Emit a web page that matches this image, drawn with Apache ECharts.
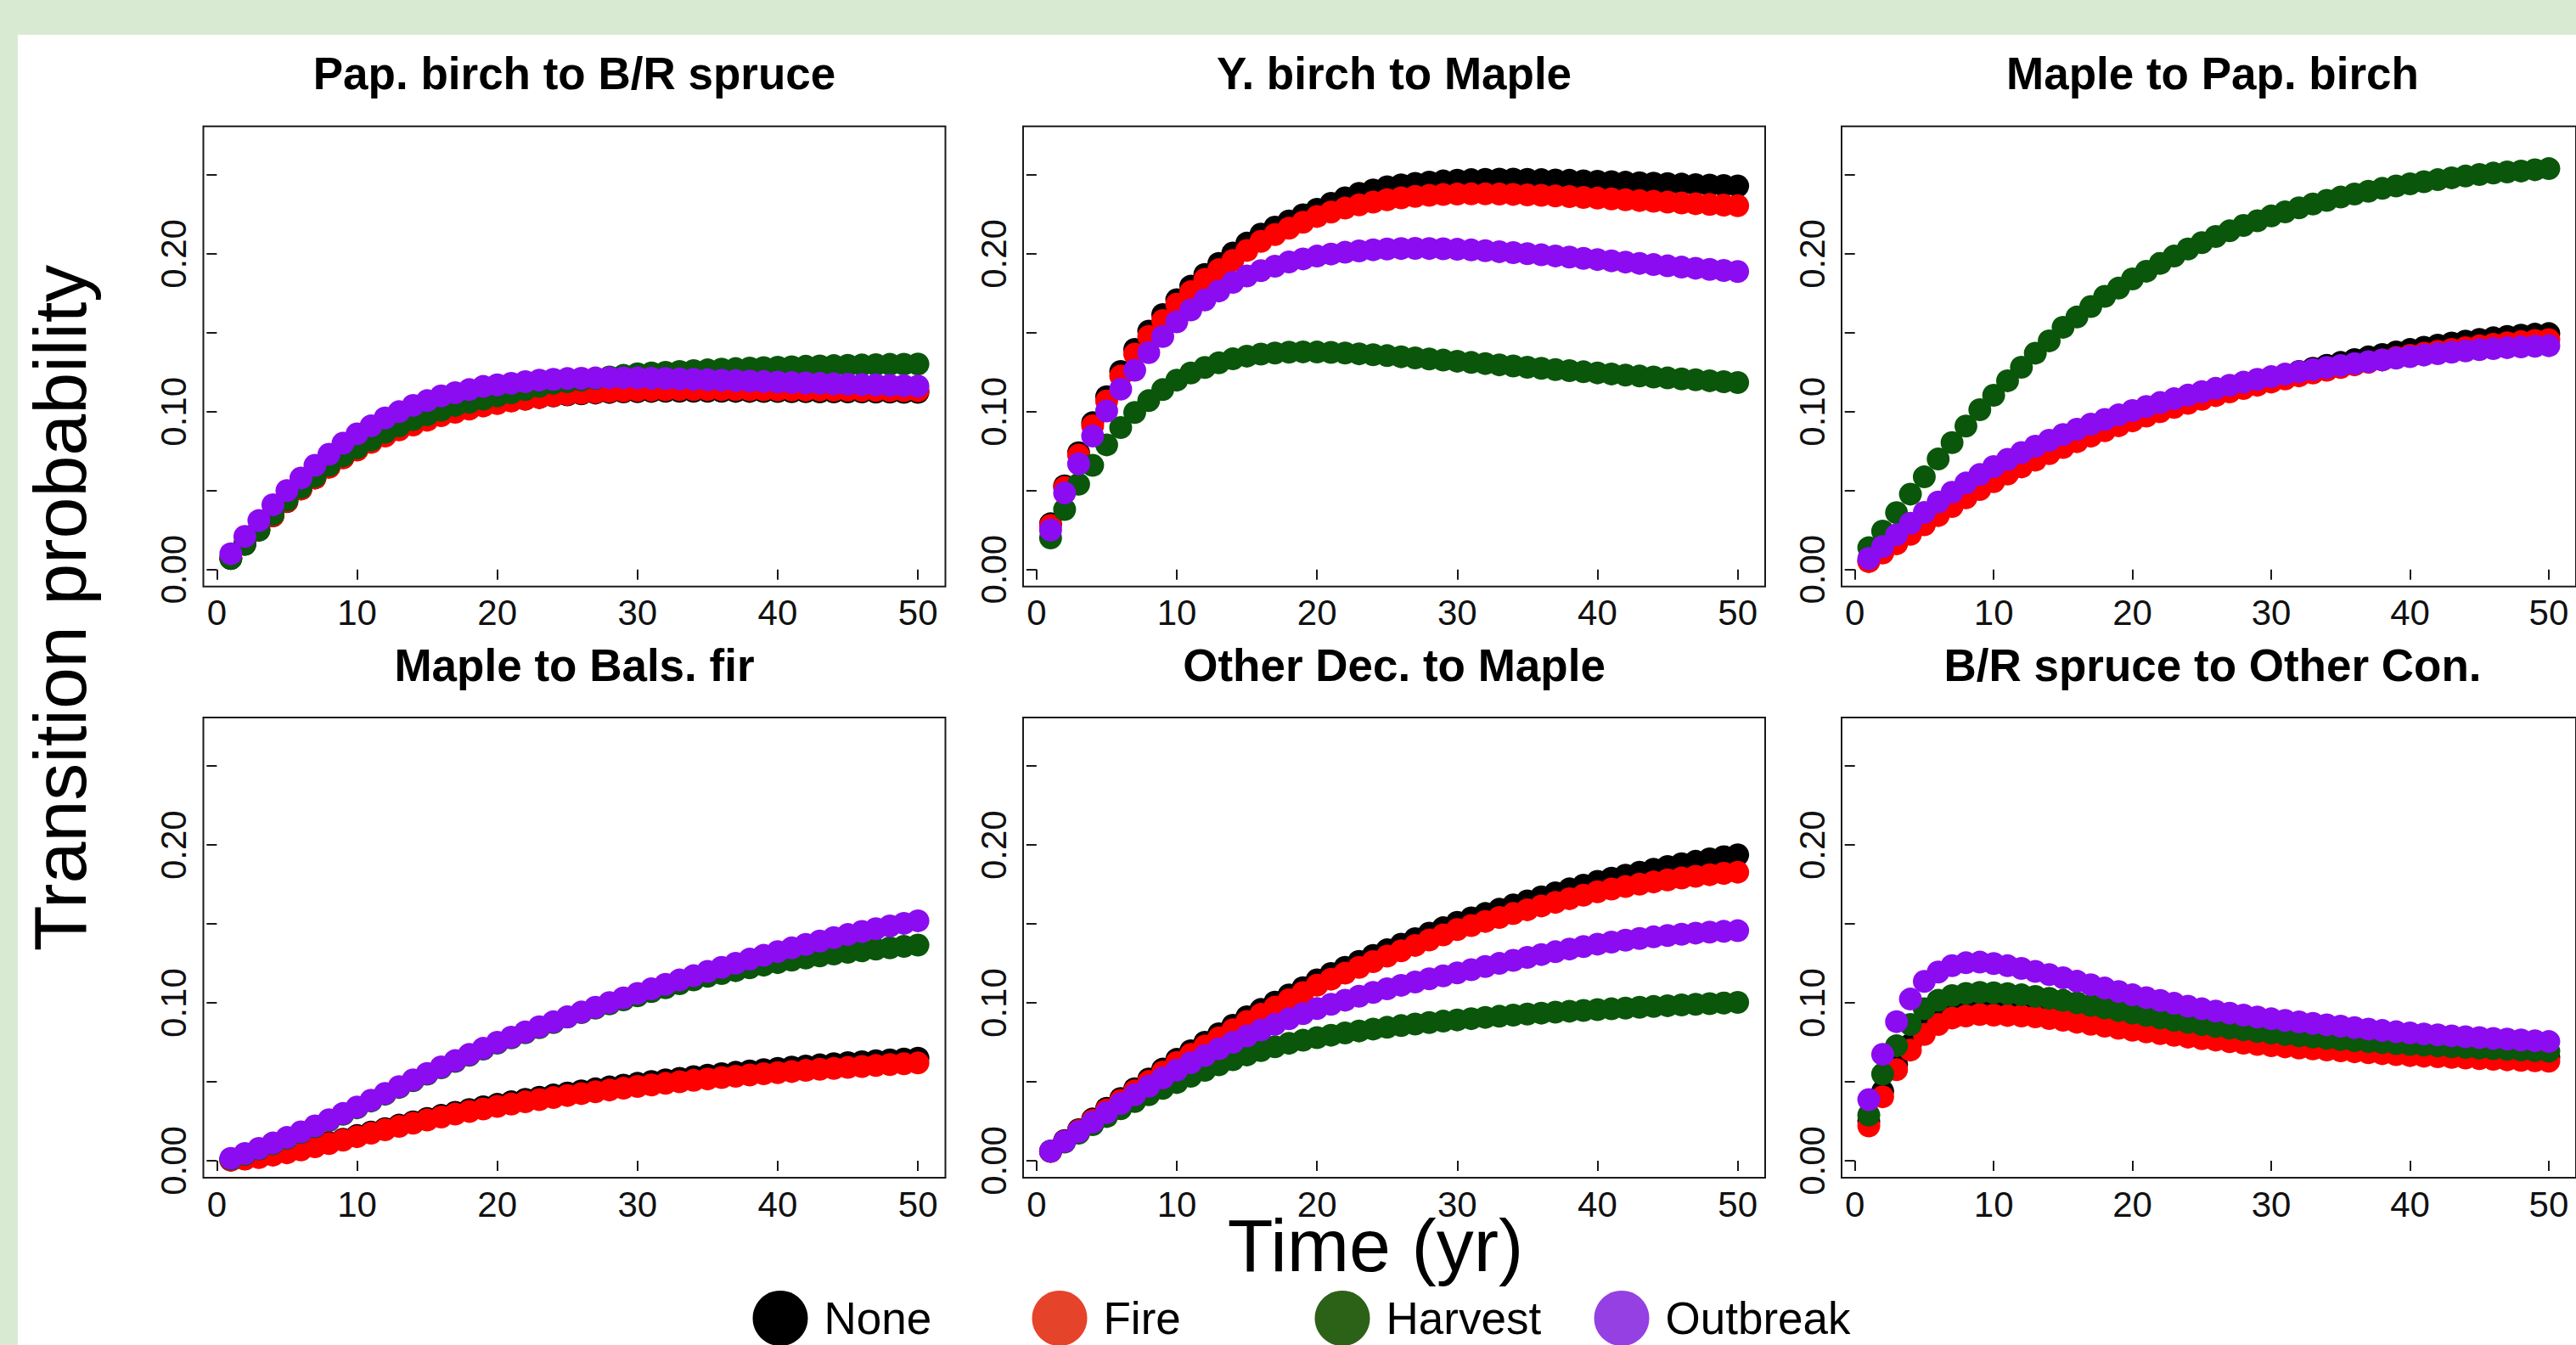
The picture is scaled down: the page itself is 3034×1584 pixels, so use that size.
<!DOCTYPE html>
<html><head><meta charset="utf-8">
<script src="https://cdn.jsdelivr.net/npm/echarts@6/dist/echarts.min.js"></script>
<style>
html,body{margin:0;padding:0;width:3034px;height:1584px;overflow:hidden;background:#d9ead3;}
#paper{position:absolute;left:21px;top:41px;right:0;bottom:0;background:#ffffff;}
#chart{position:absolute;left:0;top:0;width:3034px;height:1584px;}
</style></head><body>
<div id="paper"></div><div id="chart"></div>
<script>
const years = [1,2,3,4,5,6,7,8,9,10,11,12,13,14,15,16,17,18,19,20,21,22,23,24,25,26,27,28,29,30,31,32,33,34,35,36,37,38,39,40,41,42,43,44,45,46,47,48,49,50];
const scenarios = ['None','Fire','Harvest','Outbreak'];
const panelTitles = ['Pap. birch to B/R spruce','Y. birch to Maple','Maple to Pap. birch','Maple to Bals. fir','Other Dec. to Maple','B/R spruce to Other Con.'];
const xTickValues = [0,10,20,30,40,50];
const yTickValues = [0,0.05,0.10,0.15,0.20,0.25];
const yLabelValues = [0,0.10,0.20];
const xLabel = 'Time (yr)';
const yLabel = 'Transition probability';

// Panel 1: Pap. birch to B/R spruce
const p1None = [.007,.016,.025,.034,.043,.051,.058,.065,.071,.076,.081,.085,.089,.092,.095,.098,.100,.102,.104,.1055,.107,.108,.109,.110,.1107,.1113,.1118,.1122,.1125,.1127,.1129,.113,.113,.113,.113,.113,.1129,.1129,.1128,.1128,.1127,.1127,.1126,.1126,.1125,.1125,.1124,.1124,.1123,.1123];
const p1Fire = [.0075,.0162,.0252,.0342,.0431,.0511,.058,.0648,.0707,.0757,.0805,.0846,.0885,.0916,.0946,.0975,.0996,.1017,.1036,.1052,.1068,.1079,.109,.1101,.111,.1117,.1123,.1128,.1132,.1135,.1137,.1139,.114,.114,.114,.114,.114,.1139,.1139,.1138,.1138,.1137,.1137,.1136,.1136,.1135,.1135,.1134,.1134,.1133];
const p1Harvest = [.007,.016,.025,.035,.044,.052,.059,.066,.072,.077,.082,.087,.091,.095,.098,.101,.104,.106,.108,.110,.112,.114,.116,.118,.119,.120,.121,.122,.123,.124,.1245,.125,.1255,.126,.1265,.127,.1273,.1276,.1279,.1282,.1285,.1288,.129,.1292,.1294,.1296,.1298,.130,.1301,.1302];
const p1Outbreak = [.010,.021,.031,.041,.050,.058,.066,.073,.080,.086,.091,.096,.100,.104,.107,.110,.112,.114,.116,.117,.118,.119,.120,.1205,.121,.1212,.1214,.1215,.1215,.1214,.1212,.121,.1208,.1205,.1202,.120,.1197,.1194,.1191,.1188,.1185,.1182,.118,.1177,.1174,.1172,.117,.1167,.1165,.1162];

// Panel 2: Y. birch to Maple
const p2None = [.029,.053,.074,.093,.1095,.1255,.1395,.151,.1615,.171,.1795,.187,.194,.2005,.2068,.2125,.217,.2209,.2248,.2283,.232,.2355,.2383,.2405,.2425,.2437,.2447,.2455,.2462,.2467,.247,.2472,.2473,.2473,.2472,.247,.2468,.2466,.2463,.246,.2457,.2454,.2451,.2448,.2445,.2442,.2439,.2436,.2433,.243];
const p2Fire = [.028,.052,.0725,.0911,.1068,.1226,.1365,.1477,.1578,.1681,.176,.1838,.19,.1958,.2022,.2079,.2122,.2163,.22,.2237,.2265,.229,.231,.2328,.2343,.2355,.2364,.2371,.2376,.2379,.238,.238,.2379,.2377,.2374,.2371,.2367,.2363,.2358,.2353,.2348,.2343,.2338,.2333,.2328,.2323,.2318,.2313,.2309,.2305];
const p2Harvest = [.020,.038,.054,.066,.079,.090,.0995,.107,.114,.120,.1245,.128,.131,.1335,.1352,.1365,.1372,.1377,.1379,.1378,.1376,.1372,.1367,.1361,.1355,.1348,.1341,.1334,.1327,.132,.1312,.1305,.1297,.129,.1282,.1275,.1267,.126,.1253,.1246,.1239,.1232,.1226,.122,.1214,.1208,.1202,.1196,.119,.1185];
const p2Outbreak = [.025,.0485,.067,.0846,.1004,.1143,.1263,.1374,.1477,.1569,.1645,.1708,.1765,.182,.186,.1894,.1922,.1949,.1968,.1986,.1999,.201,.2019,.2026,.2031,.2034,.2035,.2034,.2032,.2029,.2025,.202,.2014,.2008,.2001,.1994,.1987,.198,.1972,.1964,.1956,.1948,.194,.1932,.1924,.1916,.1909,.1902,.1895,.1888];

// Panel 3: Maple to Pap. birch
const p3None = [.0055,.011,.0168,.0228,.0288,.0347,.0404,.0459,.0512,.0562,.061,.0656,.07,.0742,.0782,.082,.0856,.0891,.0924,.0956,.0987,.1016,.1044,.1071,.1097,.1122,.1146,.1169,.1192,.1214,.1235,.1255,.1275,.1294,.1312,.133,.1347,.1363,.1379,.1394,.1408,.1422,.1435,.1447,.1458,.1468,.1477,.1485,.1491,.1495];
const p3Fire = [.005,.0105,.0163,.0223,.0283,.0342,.0399,.0454,.0507,.0557,.0605,.065,.0693,.0734,.0773,.081,.0845,.0879,.0911,.0942,.0972,.1,.1027,.1053,.1078,.1102,.1125,.1147,.1168,.1188,.1208,.1227,.1245,.1263,.128,.1297,.1313,.1328,.1343,.1357,.137,.1383,.1395,.1406,.1417,.1427,.1436,.1444,.1451,.1457];
const p3Harvest = [.0138,.0243,.036,.0478,.0587,.070,.0804,.0909,.1013,.1104,.1196,.1282,.1371,.1449,.1535,.16,.1666,.1731,.1783,.1841,.189,.194,.1986,.2031,.2071,.211,.2146,.218,.221,.224,.2266,.2292,.2316,.2339,.236,.2379,.2397,.2415,.243,.2444,.2457,.247,.2482,.2493,.2503,.2512,.2519,.2525,.2533,.254];
const p3Outbreak = [.007,.0145,.022,.0293,.0362,.0428,.049,.0548,.0602,.0652,.0698,.0741,.0781,.0819,.0855,.0889,.0921,.0951,.098,.1007,.1033,.1058,.1082,.1105,.1127,.1148,.1168,.1187,.1205,.1222,.1238,.1253,.1267,.128,.1293,.1305,.1317,.1328,.1339,.1349,.1359,.1368,.1377,.1385,.1393,.14,.1406,.1411,.1415,.1418];

// Panel 4: Maple to Bals. fir
const p4None = [.0004,.0012,.0023,.0038,.0054,.0073,.0093,.0114,.0136,.0159,.0181,.0203,.0225,.0246,.0267,.0287,.0306,.0324,.0341,.0357,.0373,.0388,.0402,.0416,.0429,.0442,.0455,.0467,.0479,.049,.0501,.0512,.0522,.0532,.0542,.0551,.056,.0569,.0577,.0585,.0593,.06,.0607,.0614,.0621,.0627,.0633,.0639,.0644,.0649];
const p4Fire = [.0003,.001,.002,.0035,.005,.0068,.0088,.0108,.013,.0152,.0174,.0196,.0217,.0238,.0258,.0277,.0295,.0312,.0328,.0344,.0359,.0373,.0387,.04,.0413,.0425,.0437,.0448,.0459,.047,.048,.049,.05,.0509,.0518,.0527,.0535,.0543,.0551,.0558,.0565,.0572,.0579,.0585,.0591,.0597,.0603,.0609,.0614,.0619];
const p4Harvest = [.001,.004,.0073,.0107,.0142,.0178,.0215,.0254,.0294,.0335,.0378,.0421,.0464,.0507,.0548,.0589,.0629,.0668,.0707,.0745,.0778,.0811,.0843,.0875,.091,.0938,.0966,.0993,.1019,.1045,.1071,.1096,.1121,.1145,.1168,.1186,.1204,.1222,.1239,.1255,.127,.1284,.1297,.1309,.132,.133,.134,.1349,.1358,.1366];
const p4Outbreak = [.0015,.0045,.0078,.0112,.0147,.0183,.022,.0259,.0299,.034,.0383,.0426,.0469,.0512,.0553,.0594,.0634,.0673,.0712,.075,.0783,.0816,.0848,.088,.0911,.0942,.0972,.1002,.1031,.106,.1089,.1117,.1145,.1172,.1199,.1225,.1251,.1277,.1301,.1325,.1348,.137,.1392,.1413,.1433,.1452,.147,.1487,.1504,.152];

// Panel 5: Other Dec. to Maple
const p5None = [.006,.0128,.0196,.0264,.0332,.0394,.0456,.0518,.058,.0642,.0696,.075,.0804,.0858,.0912,.0958,.1004,.105,.1096,.1146,.1186,.1225,.1263,.13,.1336,.1372,.1407,.1442,.1476,.151,.1538,.1566,.1593,.162,.1646,.1672,.1697,.1722,.1746,.177,.179,.1809,.1828,.1846,.1864,.1881,.1897,.1912,.1926,.1938];
const p5Fire = [.0058,.0124,.019,.0255,.0321,.0382,.0442,.0502,.0562,.0622,.0674,.0726,.0778,.083,.0882,.0927,.0973,.1019,.1065,.1112,.115,.1188,.1225,.1261,.1296,.133,.1364,.1398,.1431,.1464,.149,.1516,.1541,.1566,.159,.1614,.1637,.166,.1682,.1704,.1721,.1737,.1752,.1766,.1779,.1791,.1802,.1812,.1821,.1828];
const p5Harvest = [.006,.0118,.0174,.0228,.028,.0329,.0375,.0418,.0458,.0495,.0535,.0572,.0607,.064,.067,.0697,.0722,.0744,.0763,.078,.0795,.0809,.0822,.0834,.0845,.0856,.0866,.0875,.0884,.0892,.09,.0908,.0915,.0922,.0929,.0935,.0941,.0947,.0952,.0957,.0962,.0967,.0972,.0977,.0982,.0987,.0991,.0995,.0999,.1003];
const p5Outbreak = [.006,.0122,.0184,.0245,.0305,.0362,.0418,.0472,.0524,.0574,.0621,.0666,.0709,.075,.079,.0828,.0864,.0899,.0932,.0964,.0991,.1017,.1042,.1066,.1089,.1111,.1132,.1152,.1171,.119,.121,.123,.125,.1269,.1288,.1306,.1324,.1341,.1357,.1372,.1385,.1397,.1408,.1418,.1427,.1435,.1442,.1448,.1453,.1457];

// Panel 6: B/R spruce to Other Con.
const p6None = [.025,.044,.061,.0735,.0835,.0895,.0935,.095,.0957,.0955,.0952,.0948,.0941,.0931,.092,.0907,.0894,.0881,.0868,.0855,.0843,.0831,.082,.0809,.0798,.0788,.0778,.0769,.076,.0752,.0744,.0737,.073,.0724,.0718,.0712,.0706,.07,.0695,.069,.0685,.0681,.0677,.0673,.0669,.0666,.0663,.066,.0657,.0654];
const p6Fire = [.022,.0405,.0576,.0701,.08,.0863,.0904,.0917,.0926,.0922,.092,.0917,.0911,.0901,.089,.0877,.0864,.0852,.0839,.0827,.0816,.0805,.0794,.0783,.0773,.0764,.0754,.0745,.0736,.0728,.0721,.0714,.0708,.0702,.0696,.069,.0684,.0678,.0672,.0666,.0662,.0658,.0654,.065,.0646,.0642,.0639,.0636,.0633,.063];
const p6Harvest = [.0289,.0549,.0728,.0863,.0962,.1016,.1046,.106,.1066,.1064,.1058,.1051,.1041,.1029,.1016,.1,.0984,.0968,.0951,.0935,.092,.0905,.089,.0876,.0863,.0851,.084,.0829,.0819,.0809,.08,.0791,.0783,.0775,.0767,.076,.0754,.0748,.0742,.0737,.0732,.0727,.0722,.0718,.0714,.071,.0706,.0702,.0697,.0693];
const p6Outbreak = [.0387,.0674,.0881,.1024,.1136,.1195,.1236,.1254,.1258,.1249,.1235,.1218,.1199,.1179,.1159,.1137,.1115,.1094,.1072,.1051,.1033,.1015,.0997,.0979,.0962,.0948,.0935,.0922,.091,.0899,.0889,.0879,.087,.0861,.0852,.0843,.0834,.0825,.0817,.0809,.0803,.0797,.0791,.0785,.078,.0775,.077,.0765,.076,.0755];

const panels = [
  [p1None,p1Fire,p1Harvest,p1Outbreak],
  [p2None,p2Fire,p2Harvest,p2Outbreak],
  [p3None,p3Fire,p3Harvest,p3Outbreak],
  [p4None,p4Fire,p4Harvest,p4Outbreak],
  [p5None,p5Fire,p5Harvest,p5Outbreak],
  [p6None,p6Fire,p6Harvest,p6Outbreak]
];

// styling / layout
const pointColors = ['#000000','#ff0000','#0a560a','#8b0cf0'];
const legendColors = ['#000000','#e5432a','#2c6118','#9440e3'];
const colLeft = [239.5, 1205, 2169];
const rowTop = [148.8, 845];
const PW = 874, PH = 542;
const FONT = '"Liberation Sans", Arial, Helvetica, sans-serif';
const ink = '#1a1a1a';

const grids = [], xAxes = [], yAxes = [], series = [], graphics = [];
for (let i = 0; i < 6; i++) {
  const c = i % 3, r = Math.floor(i / 3);
  grids.push({left: colLeft[c], top: rowTop[r], width: PW, height: PH, show: true,
    borderColor: ink, borderWidth: 2, backgroundColor: 'transparent', containLabel: false});
  xAxes.push({gridIndex: i, type: 'value', min: -0.96, max: 51.96,
    axisLine: {show: false}, splitLine: {show: false},
    axisTick: {show: true, customValues: xTickValues, length: 12, lineStyle: {color: ink, width: 2}},
    axisLabel: {customValues: xTickValues, fontSize: 42, color: '#111', fontFamily: FONT, margin: 10}});
  yAxes.push({gridIndex: i, type: 'value', min: -0.0108, max: 0.2808,
    axisLine: {show: false}, splitLine: {show: false},
    axisTick: {show: true, customValues: yTickValues, length: 12, lineStyle: {color: ink, width: 2}},
    axisLabel: {customValues: yLabelValues, rotate: 90, fontSize: 42, color: '#111', fontFamily: FONT, margin: 14,
      formatter: v => Number(v).toFixed(2)}});
  panels[i].forEach((vals, k) => {
    series.push({type: 'scatter', name: scenarios[k], xAxisIndex: i, yAxisIndex: i,
      symbol: 'circle', symbolSize: 27, itemStyle: {color: pointColors[k], opacity: 1},
      data: years.map((t, j) => [t, vals[j]]), animation: false, silent: true});
  });
  graphics.push({type: 'text', x: colLeft[c] + PW / 2, y: rowTop[r] - 62,
    style: {text: panelTitles[i], font: 'bold 53px ' + FONT, fill: '#000', align: 'center', verticalAlign: 'middle'}});
}
graphics.push({type: 'text', x: 1620, y: 1466,
  style: {text: xLabel, font: '88px ' + FONT, fill: '#000', align: 'center', verticalAlign: 'middle'}});
graphics.push({type: 'text', x: 70, y: 716, rotation: Math.PI / 2,
  style: {text: yLabel, font: '88px ' + FONT, fill: '#000', align: 'center', verticalAlign: 'middle'}});

const legendLeft = [886.5, 1215.5, 1548.5, 1877.5];
const legends = scenarios.map((s, k) => ({
  data: [{name: s, itemStyle: {color: legendColors[k]}}],
  left: legendLeft[k], top: 1520, orient: 'horizontal', icon: 'circle',
  itemWidth: 65, itemHeight: 65, padding: 0, selectedMode: false,
  textStyle: {fontSize: 53, color: '#000', fontFamily: FONT, padding: [0, 0, 0, 14]}
}));

const chart = echarts.init(document.getElementById('chart'), null, {renderer: 'svg', width: 3034, height: 1584});
chart.setOption({
  backgroundColor: 'transparent',
  animation: false,
  grid: grids, xAxis: xAxes, yAxis: yAxes, series: series,
  legend: legends, graphic: graphics
});
</script></body></html>
